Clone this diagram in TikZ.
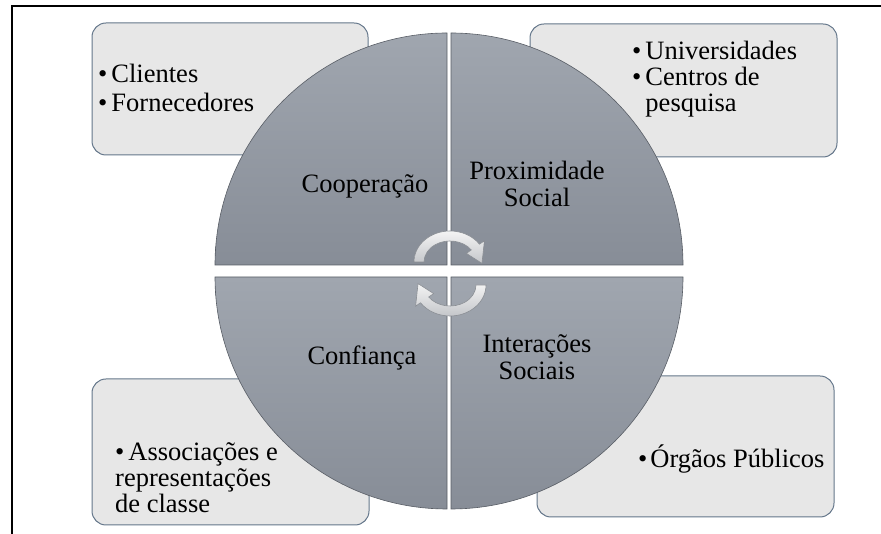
\documentclass[tikz,border=0pt]{standalone}
\usepackage{fontspec}
\setmainfont{Liberation Serif}
\usetikzlibrary{positioning}

\definecolor{boxgray}{HTML}{E7E7E7}
\definecolor{boxline}{HTML}{64768A}
\definecolor{quartop}{HTML}{A0A6AF}
\definecolor{quarbot}{HTML}{878D97}
\definecolor{quarline}{HTML}{595E66}
\definecolor{arrowtop}{HTML}{F4F4F4}
\definecolor{arrowbot}{HTML}{C4C6CA}
\definecolor{arrowline}{HTML}{8A8E94}

\begin{document}
\begin{tikzpicture}[x=1pt,y=1pt,
    quarter/.style={draw=quarline,line width=0.6pt,top color=quartop,bottom color=quarbot},
    side box/.style={draw=boxline,line width=1pt,fill=boxgray,rounded corners=14pt,inner sep=0pt},
    item text/.style={align=left,inner sep=0pt,anchor=base west,font=\fontsize{26.5}{29}\selectfont},
    quarter text/.style={align=center,inner sep=0pt,anchor=base,font=\fontsize{26.5}{27}\selectfont},
    turn arrow/.style={draw=arrowline,line width=0.6pt,top color=arrowtop,bottom color=arrowbot}]

  \useasboundingbox (0,0) rectangle (881,534);

  % frame
  \draw[line width=2pt] (12,0) -- (12,528) -- (881,528);

  % boxes behind the circle
  \node[side box,minimum width=276pt,minimum height=132pt] (b1) at (230,445) {};
  \node[side box,minimum width=307pt,minimum height=133pt] (b2) at (683.5,443.5) {};
  \node[side box,minimum width=277pt,minimum height=146pt] (b3) at (230.5,82) {};
  \node[side box,minimum width=297pt,minimum height=141pt] (b4) at (685.5,87.5) {};

  % four quarters
  \path[quarter] (447,269) -- (215,269) arc[start angle=180,end angle=90,radius=232] -- cycle;
  \path[quarter] (451,269) -- (451,501) arc[start angle=90,end angle=0,radius=232] -- cycle;
  \path[quarter] (447,257) -- (447,25) arc[start angle=270,end angle=180,radius=232] -- cycle;
  \path[quarter] (451,257) -- (683,257) arc[start angle=0,end angle=-90,radius=232] -- cycle;

  % turning arrows
  \begin{scope}[shift={(450,272)}]
    \path[turn arrow] (180:26 and 21) -- (180:36 and 31)
      arc[start angle=180,end angle=35,x radius=36,y radius=31]
      -- (35:42 and 37) -- (-3:32 and 27) -- (35:20 and 15) -- (35:26 and 21)
      arc[start angle=35,end angle=180,x radius=26,y radius=21] -- cycle;
  \end{scope}
  \begin{scope}[shift={(450,249)}]
    \path[turn arrow] (0:26 and 21) -- (0:36 and 31)
      arc[start angle=0,end angle=-145,x radius=36,y radius=31]
      -- (215:42 and 37) -- (177:32 and 27) -- (215:20 and 15) -- (215:26 and 21)
      arc[start angle=-145,end angle=0,x radius=26,y radius=21] -- cycle;
  \end{scope}

  % quarter labels (base = last line)
  \node[quarter text] (coop) at (365,341) {Cooperação};
  \node[quarter text] (prox) at (537,327) {Proximidade\\Social};
  \node[quarter text] (conf) at (362,169) {Confiança};
  \node[quarter text] (inter) at (537,154) {Interações\\Sociais};

  % box texts
  \node[item text] (t1) at (98,422) {•\hspace{4pt}Clientes\\•\hspace{4pt}Fornecedores};
  \node[item text,font=\fontsize{26.5}{26}\selectfont] (t2) at (632,422)
    {•\hspace{4pt}Universidades\\•\hspace{4pt}Centros de\\\phantom{•\hspace{4pt}}pesquisa};
  \node[item text,font=\fontsize{26.5}{26}\selectfont] (t3) at (115,21)
    {•\hspace{4pt}Associações e\\representações\\de classe};
  \node[item text] (t4) at (638,66) {•\hspace{3pt}Órgãos Públicos};
\end{tikzpicture}
\end{document}
